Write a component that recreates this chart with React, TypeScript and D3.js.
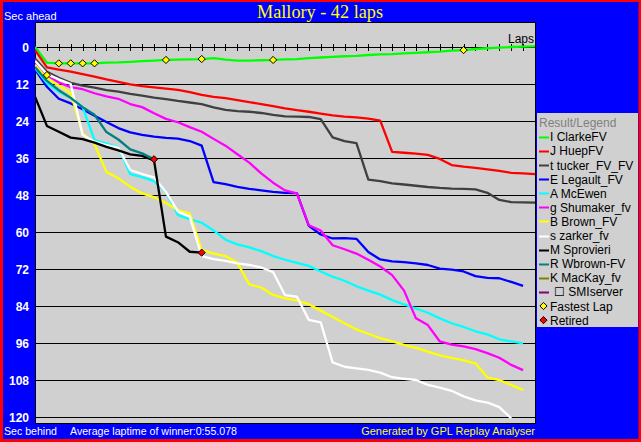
import { scaleLinear, line as d3line, range } from "d3"

const W = 641, H = 442
const PL = 35, PR = 535, PT = 22, PB = 423

// seconds behind the winner's average pace, one value per lap (index = lap)
const clarke = [0, 5.1, 5.3, 5.3, 5.3, 5.3, 5.1, 5.0, 4.8, 4.6, 4.4, 4.2, 4.1, 4.0, 3.9, 3.6, 4.1, 4.4, 4.4, 4.3, 4.2, 4.0, 3.9, 3.6, 3.4, 3.2, 3.0, 2.9, 2.6, 2.4, 2.3, 2.1, 1.9, 1.7, 1.5, 1.2, 1.0, 0.65, 0.4, 0.2, 0.0, -0.1, -0.2]
const huep = [1.0, 6.6, 7.3, 8.0, 8.8, 9.6, 10.5, 11.3, 12.1, 12.7, 13.1, 13.5, 13.9, 14.6, 15.5, 16.2, 16.6, 17.2, 17.9, 18.5, 19.2, 19.9, 20.5, 21.0, 21.6, 22.2, 22.6, 22.8, 23.2, 23.9, 34.0, 34.3, 34.6, 35.0, 36.3, 38.3, 38.8, 39.2, 39.7, 40.2, 40.8, 41.0, 41.2]
const tucker = [3.7, 8.0, 10.0, 11.6, 12.5, 13.2, 14.0, 14.5, 15.2, 15.8, 16.4, 16.9, 17.5, 18.0, 18.5, 19.6, 20.4, 20.8, 21.0, 21.4, 22.0, 22.5, 22.6, 22.7, 23.4, 29.3, 30.5, 31.2, 43.0, 43.5, 44.2, 44.6, 45.0, 45.4, 45.7, 45.9, 46.0, 46.2, 47.3, 49.6, 50.3, 50.4, 50.5]
const legault = [7.3, 12.9, 16.8, 18.3, 20.2, 22.3, 24.3, 26.3, 27.7, 28.5, 29.1, 29.5, 29.7, 30.5, 32.0, 43.8, 44.5, 45.4, 46.0, 46.5, 47.0, 47.3, 47.4, 58.0, 60.8, 62.1, 62.0, 62.2, 66.5, 68.9, 69.5, 69.8, 70.2, 70.7, 71.9, 72.2, 72.8, 74.3, 74.9, 75.0, 76.2, 77.5]
const mcewen = [6.8, 11.8, 14.5, 16.5, 19.5, 30.2, 31.3, 32.5, 41.2, 42.2, 43.5, 47.0, 54.5, 55.8, 57.0, 59.5, 62.5, 64.0, 65.0, 66.2, 67.8, 69.0, 70.0, 71.0, 72.8, 74.5, 75.8, 77.6, 79.0, 80.3, 82.1, 83.5, 84.8, 86.2, 88.0, 89.6, 90.8, 92.2, 93.2, 94.8, 95.5, 96.1]
const shumaker = [5.5, 9.1, 11.5, 13.0, 13.7, 15.0, 16.0, 16.8, 18.5, 19.5, 21.5, 23.3, 24.4, 26.0, 27.5, 29.8, 32.0, 34.8, 37.5, 41.0, 44.0, 46.5, 47.5, 57.8, 59.5, 64.3, 65.6, 67.0, 69.0, 71.2, 74.0, 79.0, 88.0, 90.2, 95.5, 96.5, 97.1, 98.0, 99.3, 100.8, 103.1, 104.8]
const brown = [5.8, 10.2, 12.5, 15.0, 28.0, 31.5, 40.5, 42.6, 45.3, 47.5, 48.7, 50.6, 52.9, 54.0, 65.8, 67.0, 67.8, 70.0, 77.0, 78.0, 80.4, 81.5, 82.2, 83.4, 85.5, 87.6, 89.6, 91.6, 93.0, 94.4, 95.5, 96.6, 97.6, 98.8, 100.0, 100.8, 101.6, 102.6, 107.2, 108.0, 109.6, 111.3]
const zarker = [4.5, 8.8, 10.5, 12.0, 28.5, 30.7, 31.8, 32.6, 39.9, 41.2, 42.3, 47.0, 53.3, 55.0, 67.8, 68.8, 69.4, 70.2, 70.7, 71.5, 73.0, 80.5, 81.0, 88.5, 89.3, 102.3, 103.7, 104.2, 104.7, 105.6, 107.1, 107.6, 108.0, 109.6, 110.5, 111.5, 113.3, 114.6, 115.3, 116.8, 120.4]
const sprovieri = [16.1, 25.6, 27.5, 29.4, 29.9, 31.0, 32.4, 33.5, 34.8, 35.3, 36.8, 61.5, 63.3, 66.4, 66.7]
const wbrown = [6.5, 11.0, 14.0, 16.5, 19.5, 22.0, 27.6, 30.0, 33.2, 34.5, 36.4]
const mackay: number[] = []
const smiserver: number[] = []

const driverNames = ["I ClarkeFV", "J HuepFV", "t tucker_FV_FV", "E Legault_FV", "A McEwen", "g Shumaker_fv", "B Brown_FV", "s zarker_fv", "M Sprovieri", "R Wbrown-FV", "K MacKay_fv", "\u2610 SMIserver"]
const driverColors = ["#00ff00", "#ff0000", "#404040", "#0000ff", "#00ffff", "#ff00ff", "#ffff00", "#ffffff", "#000000", "#008080", "#808000", "#800080"]
const driverSeries = [clarke, huep, tucker, legault, mcewen, shumaker, brown, zarker, sprovieri, wbrown, mackay, smiserver]

// [driver index, lap]
const fastestLaps = [[5, 1], [0, 2], [0, 3], [0, 4], [0, 5], [0, 11], [0, 14], [0, 20], [0, 36]]
const retired = [[9, 10], [8, 14]]

const yTicks = [0, 12, 24, 36, 48, 60, 72, 84, 96, 108, 120]
const totalLaps = 42

const FONT = "'Liberation Sans', Arial, sans-serif"

function Diamond({ x, y, fill }: { x: number; y: number; fill: string }) {
  const r = 3.6
  return <path d={`M${x},${y - r}L${x + r},${y}L${x},${y + r}L${x - r},${y}Z`} fill={fill} stroke="#000" strokeWidth={1} />
}

export default function App() {
  const x = scaleLinear().domain([0, totalLaps]).range([PL, PR])
  const y = scaleLinear().domain([0, 120]).range([47, 417])
  const path = d3line<number>().x((_, i) => x(i)).y(d => y(d))

  const legendTop = 122.7
  const rowH = 14.1

  return (
    <div>
      <style>{"body{margin:0}"}</style>
      <svg width={W} height={H} style={{ display: "block", fontFamily: FONT }}>
        <rect width={W} height={H} fill="#ff0000" />
        <rect x={3} y={2} width={635.5} height={437} fill="#0000ff" />

        <text x={320} y={17.5} textAnchor="middle" fill="#ffff00" fontSize={18}
          fontFamily="'Liberation Serif', 'Times New Roman', serif" textLength={126} lengthAdjust="spacingAndGlyphs">
          Mallory - 42 laps
        </text>
        <text x={4} y={19.5} fill="#fff" fontSize={11}>Sec ahead</text>

        <defs>
          <clipPath id="plotclip">
            <rect x={PL} y={PT} width={PR - PL + 1} height={PB - PT} />
          </clipPath>
        </defs>
        <rect x={PL + 0.5} y={PT + 0.5} width={PR - PL} height={PB - PT} fill="#d0d0d0" stroke="#000" />

        {yTicks.map(t => (
          <g key={t}>
            <line x1={PL} x2={PR} y1={Math.round(y(t)) + 0.5} y2={Math.round(y(t)) + 0.5} stroke="#000" />
            <text x={29} y={y(t) + 4.5} textAnchor="end" fill="#fff" fontSize={12} fontWeight="bold">{t}</text>
          </g>
        ))}
        {range(1, totalLaps).map(l => (
          <line key={l} x1={Math.round(x(l)) + 0.5} x2={Math.round(x(l)) + 0.5} y1={44} y2={51} stroke="#000" />
        ))}
        <text x={534} y={43} textAnchor="end" fontSize={12} fill="#000">Laps</text>

        <g clipPath="url(#plotclip)">
          {driverSeries.map((s, i) => s.length > 0 && (
            <path key={i} d={path(s) ?? ""} fill="none" stroke={driverColors[i]} strokeWidth={2.3} strokeLinejoin="round" />
          ))}
          {fastestLaps.map(([d, l], i) => (
            <Diamond key={"f" + i} x={x(l)} y={y(driverSeries[d][l])} fill="#ffff00" />
          ))}
          {retired.map(([d, l], i) => (
            <Diamond key={"r" + i} x={x(l)} y={y(driverSeries[d][l])} fill="#ff0000" />
          ))}
        </g>

        <text x={4} y={435} fill="#fff" fontSize={11} textLength={53} lengthAdjust="spacingAndGlyphs">Sec behind</text>
        <text x={70} y={435} fill="#fff" fontSize={11} textLength={167} lengthAdjust="spacingAndGlyphs">Average laptime of winner:0:55.078</text>
        <text x={535} y={435} fill="#ffff00" fontSize={11} textAnchor="end">Generated by GPL Replay Analyser</text>

        <rect x={537} y={113} width={101} height={214} fill="#d0d0d0" />
        <text x={539} y={legendTop + 4.5} fill="#808080" fontSize={12}>Result/Legend</text>
        {driverNames.map((n, i) => {
          const cy = legendTop + rowH * (i + 1)
          return (
            <g key={n}>
              <line x1={539} x2={549} y1={Math.round(cy) + 0.5} y2={Math.round(cy) + 0.5} stroke={driverColors[i]} strokeWidth={2} />
              <text x={i === 11 ? 554 : 550} y={cy + 4.5} fontSize={12} fill="#000">{n}</text>
            </g>
          )
        })}
        {[["Fastest Lap", "#ffff00"], ["Retired", "#ff0000"]].map(([n, c], i) => {
          const cy = legendTop + rowH * (driverNames.length + 1 + i)
          return (
            <g key={n}>
              <Diamond x={543.5} y={cy} fill={c} />
              <text x={550} y={cy + 4.5} fontSize={12} fill="#000">{n}</text>
            </g>
          )
        })}
      </svg>
    </div>
  )
}
